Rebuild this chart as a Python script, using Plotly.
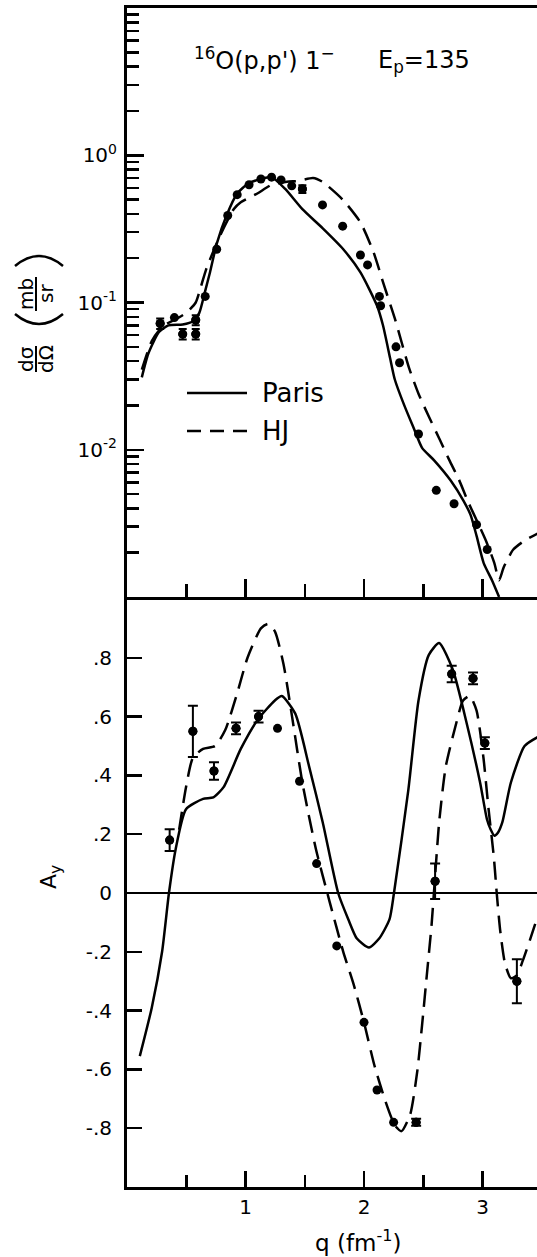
import plotly.graph_objects as go

# ---------------- data: upper panel (cross section, mb/sr) ----------------
sig_q = [0.28, 0.40, 0.47, 0.58, 0.58, 0.66, 0.757, 0.85, 0.93, 1.03, 1.13, 1.22, 1.30,
         1.39, 1.48, 1.65, 1.82, 1.97, 2.03, 2.13, 2.14, 2.27, 2.30, 2.46, 2.61, 2.76, 2.95, 3.04]
sig_val = [0.072, 0.079, 0.061, 0.076, 0.061, 0.11, 0.23, 0.39, 0.54, 0.63, 0.69, 0.71, 0.68,
           0.62, 0.59, 0.46, 0.33, 0.21, 0.18, 0.11, 0.095, 0.050, 0.039, 0.0128, 0.0053, 0.0043, 0.0031, 0.0021]
sig_err = [0.006, 0, 0.005, 0.006, 0.005, 0, 0, 0, 0, 0, 0, 0, 0,
           0, 0.035, 0, 0, 0, 0, 0, 0, 0, 0, 0, 0, 0, 0, 0]

paris_sig_q = [0.125, 0.18, 0.27, 0.35, 0.47, 0.56, 0.61, 0.66, 0.70, 0.757, 0.84, 0.93, 1.02, 1.13,
               1.22, 1.335, 1.48, 1.65, 1.825, 1.97, 2.11, 2.16, 2.22, 2.26, 2.34, 2.42, 2.49, 2.59,
               2.73, 2.84, 2.90, 2.95, 3.01, 3.08, 3.14]
paris_sig = [0.031, 0.045, 0.063, 0.070, 0.071, 0.075, 0.085, 0.12, 0.16, 0.25, 0.39, 0.55, 0.64, 0.69,
             0.71, 0.59, 0.43, 0.32, 0.23, 0.16, 0.095, 0.07, 0.042, 0.030, 0.020, 0.014, 0.0103, 0.0085,
             0.0062, 0.0045, 0.0036, 0.0026, 0.0017, 0.0013, 0.001]

hj_sig_q = [0.125, 0.21, 0.30, 0.41, 0.50, 0.58, 0.62, 0.67, 0.79, 0.90, 0.96, 1.10, 1.22, 1.35, 1.45,
            1.57, 1.65, 1.82, 1.97, 2.08, 2.17, 2.26, 2.38, 2.46, 2.55, 2.64, 2.72, 2.80, 2.88, 2.96,
            3.03, 3.10, 3.14, 3.18, 3.26, 3.35, 3.465]
hj_sig = [0.035, 0.055, 0.069, 0.077, 0.085, 0.10, 0.125, 0.17, 0.29, 0.43, 0.48, 0.55, 0.63, 0.66, 0.67,
          0.70, 0.66, 0.50, 0.35, 0.22, 0.13, 0.078, 0.036, 0.024, 0.0166, 0.0117, 0.0085, 0.0063, 0.0044,
          0.0032, 0.0024, 0.0017, 0.0013, 0.0016, 0.0021, 0.0024, 0.0027]

sig_major = [0.01, 0.1, 1]
sig_major_text = ["10<sup>-2</sup>", "10<sup>-1</sup>", "10<sup>0</sup>"]

# ---------------- data: lower panel (analyzing power A_y) ----------------
ay_q = [0.36, 0.556, 0.734, 0.92, 1.11, 1.27, 1.456, 1.60, 1.77, 2.0, 2.11, 2.25, 2.44,
        2.60, 2.74, 2.92, 3.02, 3.29]
ay_val = [0.18, 0.55, 0.415, 0.56, 0.60, 0.56, 0.38, 0.10, -0.18, -0.44, -0.67, -0.78, -0.78,
          0.04, 0.745, 0.73, 0.51, -0.30]
ay_err = [0.037, 0.087, 0.03, 0.02, 0.02, 0, 0, 0, 0, 0, 0, 0, 0.012,
          0.06, 0.028, 0.02, 0.02, 0.075]

paris_ay_q = [0.108, 0.209, 0.296, 0.354, 0.411, 0.498, 0.642, 0.729, 0.815, 0.96, 1.104, 1.248, 1.306,
              1.42, 1.537, 1.652, 1.782, 1.868, 1.94, 2.042, 2.128, 2.215, 2.253, 2.374, 2.46, 2.547,
              2.634, 2.749, 2.865, 2.98, 3.038, 3.07, 3.10, 3.13, 3.167, 3.239, 3.355, 3.465]
paris_ay = [-0.555, -0.39, -0.20, 0.0, 0.15, 0.285, 0.32, 0.325, 0.36, 0.49, 0.59, 0.655, 0.67,
            0.61, 0.43, 0.24, 0.0, -0.09, -0.155, -0.185, -0.155, -0.09, 0.0, 0.35, 0.655, 0.81,
            0.85, 0.76, 0.58, 0.375, 0.25, 0.215, 0.195, 0.205, 0.24, 0.375, 0.50, 0.53]

hj_ay_q = [0.44, 0.498, 0.556, 0.642, 0.743, 0.83, 0.93, 1.017, 1.13, 1.19, 1.248, 1.32, 1.393, 1.48,
           1.594, 1.71, 1.825, 1.912, 2.0, 2.087, 2.174, 2.26, 2.316, 2.39, 2.45, 2.49, 2.53, 2.57,
           2.59, 2.634, 2.69, 2.78, 2.836, 2.893, 2.95, 3.008, 3.05, 3.095, 3.12, 3.15, 3.19, 3.24,
           3.29, 3.34, 3.40, 3.465]
hj_ay = [0.215, 0.36, 0.46, 0.49, 0.50, 0.555, 0.68, 0.80, 0.90, 0.915, 0.89, 0.78, 0.60, 0.375,
         0.15, -0.03, -0.20, -0.31, -0.44, -0.585, -0.70, -0.79, -0.81, -0.753, -0.605, -0.449, -0.28, -0.11,
         0.0, 0.24, 0.43, 0.58, 0.655, 0.67, 0.62, 0.46, 0.29, 0.125, 0.0, -0.13, -0.24, -0.29,
         -0.28, -0.23, -0.16, -0.08]

ay_ticks = [-0.8, -0.6, -0.4, -0.2, 0, 0.2, 0.4, 0.6, 0.8]
ay_ticktext = ["-.8", "-.6", "-.4", "-.2", "0", ".2", ".4", ".6", ".8"]
q_ticks = [1, 2, 3]
q_ticktext = ["1", "2", "3"]
q_minor = [0.5, 1.5, 2.5]

# ---------------- layout geometry (page pixels) ----------------
W, H = 537, 1257
L, R, T, B = 127, 0, 8, 70
PW, PH = W - L - R, H - T - B
TOP_BOTTOM = 597      # bottom edge of upper panel
LOW_TOP = 599         # top edge of lower panel
low_dom = [0, (H - B - LOW_TOP) / PH]
top_dom = [(H - B - TOP_BOTTOM) / PH, 1]
QMAX = (W - L) / 118.5

FONT = "DejaVu Sans"
INK = "black"


def px2x(px):
    return (px - L) / PW


def py2y(py):
    return (H - B - py) / PH


fig = go.Figure()

line_w = 2.5
dash_pat = "18px,9px"

# upper panel curves
fig.add_trace(go.Scatter(x=paris_sig_q, y=paris_sig, xaxis="x2", yaxis="y2", mode="lines",
                         line=dict(color=INK, width=line_w, shape="spline", smoothing=0.6),
                         name="Paris", showlegend=False))
fig.add_trace(go.Scatter(x=hj_sig_q, y=hj_sig, xaxis="x2", yaxis="y2", mode="lines",
                         line=dict(color=INK, width=line_w, dash=dash_pat, shape="spline", smoothing=0.6),
                         name="HJ", showlegend=False))
# upper panel data
e_q = [q for q, e in zip(sig_q, sig_err) if e > 0]
e_v = [v for v, e in zip(sig_val, sig_err) if e > 0]
e_e = [e for e in sig_err if e > 0]
fig.add_trace(go.Scatter(x=sig_q, y=sig_val, xaxis="x2", yaxis="y2", mode="markers",
                         marker=dict(color=INK, size=9), showlegend=False))
fig.add_trace(go.Scatter(x=e_q, y=e_v, xaxis="x2", yaxis="y2", mode="markers",
                         marker=dict(color=INK, size=9),
                         error_y=dict(type="data", array=e_e, color=INK, thickness=2, width=4),
                         showlegend=False))

# lower panel curves
fig.add_trace(go.Scatter(x=paris_ay_q, y=paris_ay, xaxis="x", yaxis="y", mode="lines",
                         line=dict(color=INK, width=line_w, shape="spline", smoothing=0.6),
                         showlegend=False))
fig.add_trace(go.Scatter(x=hj_ay_q, y=hj_ay, xaxis="x", yaxis="y", mode="lines",
                         line=dict(color=INK, width=line_w, dash=dash_pat, shape="spline", smoothing=0.6),
                         showlegend=False))
a_q = [q for q, e in zip(ay_q, ay_err) if e > 0]
a_v = [v for v, e in zip(ay_val, ay_err) if e > 0]
a_e = [e for e in ay_err if e > 0]
fig.add_trace(go.Scatter(x=ay_q, y=ay_val, xaxis="x", yaxis="y", mode="markers",
                         marker=dict(color=INK, size=9), showlegend=False))
fig.add_trace(go.Scatter(x=a_q, y=a_v, xaxis="x", yaxis="y", mode="markers",
                         marker=dict(color=INK, size=9),
                         error_y=dict(type="data", array=a_e, color=INK, thickness=2, width=5),
                         showlegend=False))

axis_common = dict(showline=True, linecolor=INK, linewidth=3, ticks="inside", tickcolor=INK,
                   tickwidth=2.5, showgrid=False, zeroline=False,
                   tickfont=dict(family=FONT, size=20, color=INK))

fig.update_layout(
    width=W, height=H,
    margin=dict(l=L, r=R, t=T, b=B),
    paper_bgcolor="white", plot_bgcolor="white",
    font=dict(family=FONT, color=INK),
    showlegend=False,
    hovermode=False,
    xaxis=dict(**axis_common, domain=[0, 1], anchor="y", range=[0, QMAX],
               tickmode="array", tickvals=q_ticks, ticktext=q_ticktext, ticklen=16,
               ticklabelstandoff=0,
               minor=dict(tickmode="array", tickvals=q_minor, ticks="inside", ticklen=12,
                          tickwidth=2.5, tickcolor=INK, showgrid=False)),
    xaxis2=dict(**axis_common, domain=[0, 1], anchor="y2", matches="x", range=[0, QMAX],
                tickmode="array", tickvals=q_ticks, showticklabels=False, ticklen=18, mirror=True,
                minor=dict(tickmode="array", tickvals=q_minor, ticks="inside", ticklen=13,
                           tickwidth=2.5, tickcolor=INK, showgrid=False)),
    yaxis=dict(**{k: v for k, v in axis_common.items() if k != "zeroline"},
               domain=low_dom, anchor="x", range=[-1, 1],
               tickmode="array", tickvals=ay_ticks, ticktext=ay_ticktext, ticklen=15,
               ticklabelstandoff=8,
               zeroline=True, zerolinecolor=INK, zerolinewidth=1.5),
    yaxis2=dict(**axis_common, domain=top_dom, anchor="x2", type="log", range=[-3, 1],
                tickmode="array", tickvals=sig_major, ticktext=sig_major_text, ticklen=17,
                ticklabelstandoff=3,
                minor=dict(tickmode="array",
                           tickvals=[m * 10 ** d for d in (-3, -2, -1, 0) for m in range(2, 10)],
                           ticks="inside", ticklen=12, tickwidth=2.5, tickcolor=INK, showgrid=False)),
)

ann = []
shapes = []

# reaction label
ann.append(dict(x=px2x(192), y=py2y(59), xref="paper", yref="paper", xanchor="left", yanchor="middle",
                text="<sup>16</sup>O(p,p') 1<sup>\u2212</sup>", showarrow=False,
                font=dict(family=FONT, size=24, color=INK)))
ann.append(dict(x=px2x(376), y=py2y(61), xref="paper", yref="paper", xanchor="left", yanchor="middle",
                text="E<sub>p</sub>=135", showarrow=False,
                font=dict(family=FONT, size=24, color=INK)))

# legend
shapes.append(dict(type="line", xref="paper", yref="paper", x0=px2x(187), x1=px2x(247),
                   y0=py2y(393), y1=py2y(393), line=dict(color=INK, width=2.5)))
shapes.append(dict(type="line", xref="paper", yref="paper", x0=px2x(187), x1=px2x(247),
                   y0=py2y(431), y1=py2y(431), line=dict(color=INK, width=2.5, dash="14px,9px")))
ann.append(dict(x=px2x(260), y=py2y(393), xref="paper", yref="paper", xanchor="left", yanchor="middle",
                text="Paris", showarrow=False, font=dict(family=FONT, size=26, color=INK)))
ann.append(dict(x=px2x(260), y=py2y(431), xref="paper", yref="paper", xanchor="left", yanchor="middle",
                text="HJ", showarrow=False, font=dict(family=FONT, size=26, color=INK)))

# y title upper: (dσ/dΩ)(mb/sr) rotated
for txt, x, y in [("d\u03c3", 26, 359), ("d\u03a9", 46, 359), ("mb", 26, 294), ("sr", 46, 294)]:
    ann.append(dict(x=px2x(x), y=py2y(y), xref="paper", yref="paper", xanchor="center", yanchor="middle",
                    text=txt, textangle=-90, showarrow=False, font=dict(family=FONT, size=20, color=INK)))
shapes.append(dict(type="line", xref="paper", yref="paper", x0=px2x(36), x1=px2x(36),
                   y0=py2y(346), y1=py2y(372), line=dict(color=INK, width=2)))
shapes.append(dict(type="line", xref="paper", yref="paper", x0=px2x(36), x1=px2x(36),
                   y0=py2y(277), y1=py2y(311), line=dict(color=INK, width=2)))


def arc(xa, xb, ye, yc):
    return "M {} {} Q {} {} {} {}".format(px2x(xa), py2y(ye), px2x((xa + xb) / 2), py2y(yc),
                                         px2x(xb), py2y(ye))


shapes.append(dict(type="path", xref="paper", yref="paper", path=arc(15, 63, 314, 334),
                   line=dict(color=INK, width=2.5)))
shapes.append(dict(type="path", xref="paper", yref="paper", path=arc(15, 63, 266, 246),
                   line=dict(color=INK, width=2.5)))

# y title lower
ann.append(dict(x=px2x(50), y=py2y(877), xref="paper", yref="paper", xanchor="center", yanchor="middle",
                text="A<sub>y</sub>", textangle=-90, showarrow=False,
                font=dict(family=FONT, size=22, color=INK)))

# x title
ann.append(dict(x=px2x(358), y=py2y(1241), xref="paper", yref="paper", xanchor="center", yanchor="middle",
                text="q (fm<sup>-1</sup>)", showarrow=False, font=dict(family=FONT, size=23, color=INK)))

fig.update_layout(annotations=ann, shapes=shapes)

fig.write_html("out.html", config={"displayModeBar": False, "staticPlot": True},
               post_script="document.body.style.margin='0';document.body.style.overflow='hidden';")
